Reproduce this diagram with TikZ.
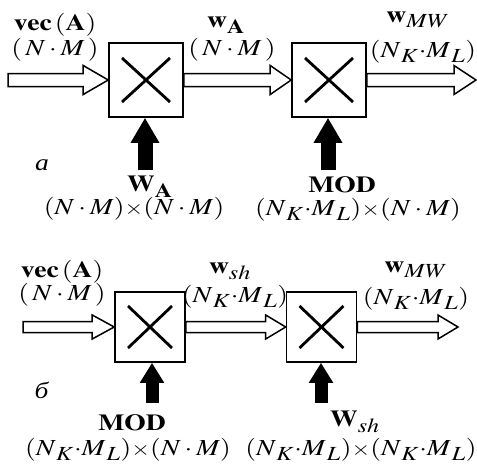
\documentclass[tikz,border=0pt]{standalone}
\usepackage{mathptmx}
\usepackage{fontspec}
\setmainfont{Liberation Serif}
\usetikzlibrary{arrows.meta,calc}
\DeclareMathSizes{23}{23}{20}{15}

% hollow wide arrow: from, to, shaft half height, head half height, head length
\newcommand\hollowarrow[5]{%
  \draw[hollow] let \p1=(#1), \p2=(#2) in
    (\x1,\y2+#3) -- (\x2-#5,\y2+#3) -- (\x2-#5,\y2+#4) -- (\x2,\y2)
    -- (\x2-#5,\y2-#4) -- (\x2-#5,\y2-#3) -- (\x1,\y2-#3) -- cycle;}
% small times sign without spacing
\newcommand\mtimes{\mathord{\scriptstyle\times}}
% index pair with large subscripts
\newcommand\nkml{(N_{\,K}{\cdot}M_{\,L})}

\begin{document}
\begin{tikzpicture}[x=1pt, y=-1pt,
  every node/.style={inner sep=0pt},
  lbl/.style={font=\fontsize{23}{25}\selectfont, xscale=1.2},
  mult/.style={draw, line width=1.6pt, minimum size=#1},
  cross/.style={line width=2.8pt},
  hollow/.style={line width=1.5pt, fill=white},
  feed/.style={line width=#1}]

\useasboundingbox (0,0) rectangle (477,466);

% DIAGRAM A
\begin{scope}

  %multiplier boxes
  \node[mult=74pt] (ma1) at (146,80) {};
  \node[mult=74pt] (ma2) at (329,80) {};
  \draw[cross] ([shift={(-24,-22)}]ma1.center) -- ([shift={(24,22)}]ma1.center);
  \draw[cross] ([shift={(-24,22)}]ma1.center) -- ([shift={(24,-22)}]ma1.center);
  \draw[cross] ([shift={(-24,-22)}]ma2.center) -- ([shift={(24,22)}]ma2.center);
  \draw[cross] ([shift={(-24,22)}]ma2.center) -- ([shift={(24,-22)}]ma2.center);

  %hollow arrows
  \coordinate (ina) at (8,80);
  \coordinate (outa) at (476,80);
  \hollowarrow{ina}{ma1.west}{6.5pt}{14.5pt}{25pt}
  \hollowarrow{ma1.east}{ma2.west}{6.5pt}{14.5pt}{21pt}
  \hollowarrow{ma2.east}{outa}{6.5pt}{14.5pt}{22pt}

  %black arrows from below
  \coordinate (fa1) at (145,170);
  \coordinate (fa2) at (328,170);
  \draw[feed=15pt, -{Triangle[width=27pt,length=25pt]}] (fa1) -- (fa1 |- ma1.south);
  \draw[feed=15pt, -{Triangle[width=27pt,length=25pt]}] (fa2) -- (fa2 |- ma2.south);

  %labels above
  \node[lbl] (va) at (55,25) {$\mathbf{vec}\,(\mathbf{A})$};
  \node[lbl] (vda) at (55,50) {$(\,N\cdot M\,)$};
  \node[lbl] (wa) at (226,25) {$\mathbf{w}_{\mathbf{A}}$};
  \node[lbl] (wda) at (232,50) {$(\,N\cdot M\,)$};
  \node[lbl] (wmwa) at (418,20) {$\mathbf{w}_{MW}$};
  \node[lbl] (wmwda) at (423,52) {$\nkml$};

  %labels below
  \node[lbl] (taga) at (42,165) {\textit{a}};
  \node[lbl] (WAa) at (150,187) {$\mathbf{W}_{\mathbf{A}}$};
  \node[lbl] (WAda) at (134,209) {$(N\cdot M)\mtimes(N\cdot M)$};
  \node[lbl] (MODa) at (342,185) {$\mathbf{MOD}$};
  \node[lbl] (MODda) at (358,210) {$\nkml\mtimes(N\cdot M)$};

\end{scope}

% DIAGRAM B
\begin{scope}

  %multiplier boxes
  \node[mult=70pt] (mb1) at (150,327) {};
  \node[mult=70pt] (mb2) at (321.5,327) {};
  \draw[cross] ([shift={(-22,-21)}]mb1.center) -- ([shift={(22,21)}]mb1.center);
  \draw[cross] ([shift={(-22,21)}]mb1.center) -- ([shift={(22,-21)}]mb1.center);
  \draw[cross] ([shift={(-22,-21)}]mb2.center) -- ([shift={(22,21)}]mb2.center);
  \draw[cross] ([shift={(-22,21)}]mb2.center) -- ([shift={(22,-21)}]mb2.center);

  %hollow arrows
  \coordinate (inb) at (23,327);
  \coordinate (outb) at (458,327);
  \hollowarrow{inb}{mb1.west}{5.5pt}{12pt}{22pt}
  \hollowarrow{mb1.east}{mb2.west}{5.5pt}{12pt}{20pt}
  \hollowarrow{mb2.east}{outb}{5.5pt}{12pt}{20pt}

  %black arrows from below
  \coordinate (fb1) at (152,403);
  \coordinate (fb2) at (321,403);
  \draw[feed=13pt, -{Triangle[width=23pt,length=20pt]}] (fb1) -- (fb1 |- mb1.south);
  \draw[feed=13pt, -{Triangle[width=23pt,length=20pt]}] (fb2) -- (fb2 |- mb2.south);

  %labels above
  \node[lbl] (vb) at (62,272) {$\mathbf{vec}\,(\mathbf{A})$};
  \node[lbl] (vdb) at (62,295) {$(\,N\cdot M\,)$};
  \node[lbl] (wb) at (230,271) {$\mathbf{w}_{sh}$};
  \node[lbl] (wdb) at (235,297) {$\nkml$};
  \node[lbl] (wmwb) at (416,270) {$\mathbf{w}_{MW}$};
  \node[lbl] (wmwdb) at (416,299) {$\nkml$};

  %labels below
  \node[lbl] (tagb) at (42,390) {\textit{б}};
  \node[lbl] (MODb) at (132,423) {$\mathbf{MOD}$};
  \node[lbl] (MODdb) at (128,450) {$\nkml\mtimes(N\cdot M)$};
  \node[lbl] (WSb) at (355,422) {$\mathbf{W}_{sh}$};
  \node[lbl] (WSdb) at (361,450) {$\nkml\mtimes\nkml$};

\end{scope}

\end{tikzpicture}
\end{document}
